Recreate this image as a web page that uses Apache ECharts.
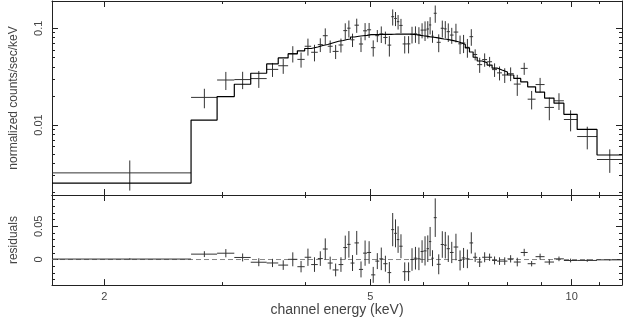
<!DOCTYPE html>
<html><head><meta charset="utf-8">
<script src="https://cdn.jsdelivr.net/npm/echarts@6/dist/echarts.min.js"></script>
<style>html,body{margin:0;padding:0;background:#fff}#c{width:623px;height:318px}</style>
</head><body><div id="c"></div>
<script>
// Energy bin edges (keV)
const binEdges = [1.671, 2.697, 2.950, 3.130, 3.312, 3.499, 3.641, 3.767, 3.889, 3.988, 4.078,
  4.172, 4.245, 4.317, 4.391, 4.482, 4.555, 4.617, 4.670, 4.734, 4.807,
  4.876, 4.944, 5.013, 5.086, 5.156, 5.227, 5.304, 5.372, 5.427, 5.477,
  5.524, 5.587, 5.668, 5.738, 5.804, 5.875, 5.944, 6.004, 6.067, 6.118,
  6.166, 6.219, 6.283, 6.370, 6.440, 6.502, 6.575, 6.659, 6.767, 6.850,
  6.933, 7.033, 7.122, 7.222, 7.347, 7.473, 7.602, 7.733, 7.866, 8.015,
  8.192, 8.390, 8.593, 8.830, 9.108, 9.408, 9.734, 10.19, 10.91, 11.89];
// normalized counts/sec/keV
const rate = [0.0032,0.0193,0.0292,0.0295,0.0302,0.0376,0.0410,0.0548,0.0477,0.0652,
  0.0565,0.0678,0.0838,0.0652,0.0577,0.0672,0.0946,0.1003,0.0760,0.1077,
  0.0688,0.0942,0.0965,0.0630,0.0839,0.0875,0.0804,0.0670,0.1318,0.1263,
  0.1170,0.1071,0.0689,0.0690,0.0867,0.0877,0.0856,0.0957,0.0959,0.0984,
  0.1083,0.0828,0.1430,0.0716,0.1001,0.0986,0.0923,0.0851,0.0914,0.0691,
  0.0704,0.0636,0.0819,0.0536,0.0421,0.0475,0.0451,0.0374,0.0346,0.0329,
  0.0339,0.0265,0.0385,0.0185,0.0262,0.0152,0.0178,0.0114,0.0076,0.0044];
const rateErr = [0.0011,0.0044,0.0062,0.0060,0.0060,0.0062,0.0072,0.0105,0.0085,0.0130,
  0.0110,0.0110,0.0160,0.0096,0.0096,0.0110,0.0180,0.0200,0.0120,0.0180,
  0.0120,0.0190,0.0170,0.0120,0.0120,0.0170,0.0120,0.0160,0.0250,0.0210,
  0.0200,0.0180,0.0140,0.0140,0.0170,0.0170,0.0170,0.0170,0.0220,0.0200,
  0.0220,0.0120,0.0290,0.0150,0.0200,0.0200,0.0200,0.0160,0.0200,0.0150,
  0.0150,0.0140,0.0160,0.0070,0.0075,0.0075,0.0055,0.0060,0.0057,0.0057,
  0.0055,0.0065,0.0055,0.0040,0.0045,0.0040,0.0035,0.0028,0.0020,0.0012];
const model = [0.00251,0.01124,0.0197,0.0264,0.0343,0.0428,0.0494,0.0545,0.0585,0.0618,
  0.0641,0.0664,0.0680,0.0705,0.0734,0.0748,0.0766,0.0775,0.0813,0.0827,
  0.0837,0.0846,0.0859,0.0861,0.0863,0.0865,0.0867,0.0867,0.0868,0.0869,
  0.0870,0.0871,0.0872,0.0873,0.0867,0.0857,0.0846,0.0837,0.0829,0.0821,
  0.0813,0.0808,0.0800,0.0788,0.0775,0.0770,0.0760,0.0745,0.0726,0.0705,
  0.0680,0.0626,0.0569,0.0502,0.0459,0.0441,0.0417,0.0388,0.0370,0.0353,
  0.0329,0.0303,0.0279,0.0248,0.0219,0.0190,0.0168,0.0129,0.0090,0.0049];
const resid = [0.0007,0.0081,0.0095,0.0031,-0.0041,-0.0052,-0.0084,0.0003,-0.0108,0.0034,
  -0.0076,0.0014,0.0158,-0.0053,-0.0157,-0.0076,0.0180,0.0228,-0.0053,0.0250,
  -0.0149,0.0096,0.0106,-0.0231,-0.0024,0.0010,-0.0063,-0.0197,0.0450,0.0394,
  0.0300,0.0200,-0.0183,-0.0183,0.0000,0.0020,0.0010,0.0120,0.0130,0.0163,
  0.0270,0.0020,0.0630,-0.0072,0.0226,0.0216,0.0163,0.0106,0.0188,-0.0014,
  0.0024,0.0010,0.0250,0.0034,-0.0038,0.0034,0.0034,-0.0014,-0.0024,-0.0024,
  0.0010,-0.0038,0.0106,-0.0063,0.0043,-0.0038,0.0010,-0.0015,-0.0014,-0.0005];

// ticks and labels
const xMajorTicks = [2, 5, 10];
const xMinorTicks = [2, 3, 4, 5, 6, 7, 8, 9, 10, 11];
const yMajorTicks = [0.01, 0.1];
const yMinorTicks = [0.002,0.003,0.004,0.005,0.006,0.007,0.008,0.009,0.02,0.03,0.04,0.05,0.06,0.07,0.08,0.09];
const rMajorTicks = [0, 0.05];
const rMinorTicks = [-0.03,-0.02,-0.01,0,0.01,0.02,0.03,0.04,0.05,0.06,0.07,0.08,0.09];
const xRange = [1.671, 11.89];
const yRange = [0.00189, 0.1915];
const rRange = [-0.0385, 0.0971];

const FONT = 'Liberation Sans';
const TXT = '#444';
const AX = '#222';
const MINOR = 3, MAJOR = 6;

function xAx(grid, pos, ticks, len, line, extra) {
  return Object.assign({
    type: 'log', logBase: 10, gridIndex: grid, position: pos,
    min: xRange[0], max: xRange[1],
    axisLine: {show: line, onZero: false, lineStyle: {color: AX, width: 1}},
    axisTick: {show: true, inside: true, length: len, customValues: ticks, lineStyle: {color: AX, width: 1}},
    axisLabel: {show: false},
    splitLine: {show: false}
  }, extra || {});
}
function yAx(grid, type, range, pos, ticks, len, line, extra) {
  const o = {
    type: type, gridIndex: grid, position: pos,
    min: range[0], max: range[1],
    axisLine: {show: line, onZero: false, lineStyle: {color: AX, width: 1}},
    axisTick: {show: true, inside: true, length: len, customValues: ticks, lineStyle: {color: AX, width: 1}},
    axisLabel: {show: false},
    splitLine: {show: false}
  };
  if (type === 'log') o.logBase = 10;
  return Object.assign(o, extra || {});
}

const labelStyle = {fontFamily: FONT, fontSize: 11, color: TXT};

const xAxes = [
  xAx(0, 'bottom', xMinorTicks, MINOR, true),
  xAx(0, 'bottom', xMajorTicks, MAJOR, false),
  xAx(0, 'top', xMinorTicks, MINOR, true),
  xAx(0, 'top', xMajorTicks, MAJOR, false),
  xAx(1, 'bottom', xMinorTicks, MINOR, true),
  xAx(1, 'bottom', xMajorTicks, MAJOR, false, {
    axisLabel: Object.assign({show: true, customValues: xMajorTicks, margin: 6,
      formatter: v => String(v)}, labelStyle),
    name: 'channel energy (keV)', nameLocation: 'middle', nameGap: 16,
    nameTextStyle: {fontFamily: FONT, fontSize: 14, color: TXT}
  }),
  xAx(1, 'top', xMinorTicks, MINOR, true),
  xAx(1, 'top', xMajorTicks, MAJOR, false)
];
const yAxes = [
  yAx(0, 'log', yRange, 'left', yMinorTicks, MINOR, true),
  yAx(0, 'log', yRange, 'left', yMajorTicks, MAJOR, false, {
    axisLabel: Object.assign({show: true, customValues: yMajorTicks, rotate: 90, margin: 8,
      formatter: v => String(v)}, labelStyle),
    name: 'normalized counts/sec/keV', nameLocation: 'middle', nameGap: 32, nameRotate: 90,
    nameTextStyle: {fontFamily: FONT, fontSize: 12, color: TXT}
  }),
  yAx(0, 'log', yRange, 'right', yMinorTicks, MINOR, true),
  yAx(0, 'log', yRange, 'right', yMajorTicks, MAJOR, false),
  yAx(1, 'value', rRange, 'left', rMinorTicks, MINOR, true),
  yAx(1, 'value', rRange, 'left', rMajorTicks, MAJOR, false, {
    axisLabel: Object.assign({show: true, customValues: rMajorTicks, rotate: 90, margin: 8,
      formatter: v => String(v)}, labelStyle),
    name: 'residuals', nameLocation: 'middle', nameGap: 32, nameRotate: 90,
    nameTextStyle: {fontFamily: FONT, fontSize: 12, color: TXT}
  }),
  yAx(1, 'value', rRange, 'right', rMinorTicks, MINOR, true),
  yAx(1, 'value', rRange, 'right', rMajorTicks, MAJOR, false)
];

const modelSteps = [];
model.forEach((m, i) => { modelSteps.push([binEdges[i], m], [binEdges[i + 1], m]); });
const dataPts = rate.map((v, i) => [binEdges[i], binEdges[i + 1], v, rateErr[i]]);
const resPts = resid.map((v, i) => [binEdges[i], binEdges[i + 1], v, rateErr[i]]);

function crossRender(params, api) {
  const lo = api.value(0), hi = api.value(1), v = api.value(2), e = api.value(3);
  const mid = (lo + hi) / 2;
  const a = api.coord([lo, v]), b = api.coord([hi, v]);
  const c = api.coord([mid, v - e]), d = api.coord([mid, v + e]);
  const st = {stroke: '#333', lineWidth: 1};
  return {type: 'group', children: [
    {type: 'line', shape: {x1: a[0], y1: a[1], x2: b[0], y2: b[1]}, style: st},
    {type: 'line', shape: {x1: c[0], y1: c[1], x2: d[0], y2: d[1]}, style: st}
  ]};
}

const chart = echarts.init(document.getElementById('c'), null, {renderer: 'canvas'});
chart.setOption({
  animation: false,
  backgroundColor: '#fff',
  grid: [
    {left: 47, right: 1, top: 1, height: 194},
    {left: 47, right: 1, top: 195, height: 94}
  ],
  xAxis: xAxes,
  yAxis: yAxes,
  series: [
    {type: 'line', xAxisIndex: 0, yAxisIndex: 0, data: modelSteps, showSymbol: false, symbol: 'none',
      lineStyle: {color: '#000', width: 1.2}, clip: true, z: 3},
    {type: 'custom', xAxisIndex: 0, yAxisIndex: 0, data: dataPts, renderItem: crossRender,
      encode: {x: [0, 1], y: 2}, clip: true, z: 2},
    {type: 'line', xAxisIndex: 4, yAxisIndex: 4, data: [[xRange[0], 0], [xRange[1], 0]], symbol: 'none',
      lineStyle: {color: '#888', width: 1, type: [5, 3]}, z: 1},
    {type: 'custom', xAxisIndex: 4, yAxisIndex: 4, data: resPts, renderItem: crossRender,
      encode: {x: [0, 1], y: 2}, clip: true, z: 2}
  ]
});
</script>
</body></html>
